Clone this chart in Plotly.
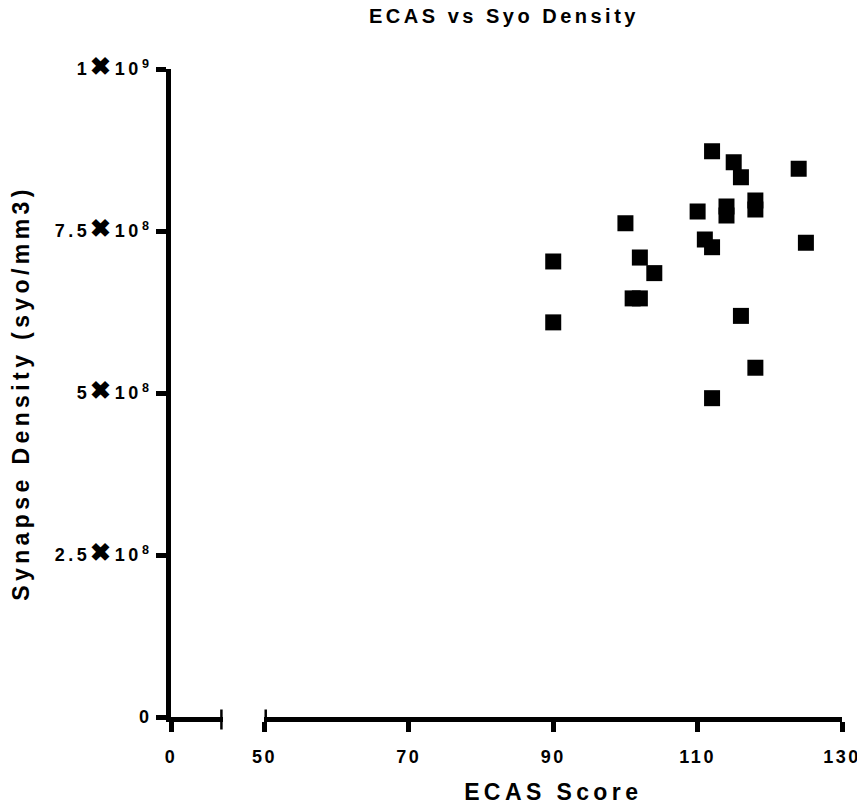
import plotly.graph_objects as go

# ---- data ----
chart_title = "ECAS vs Syo Density"
x_title = "ECAS Score"
y_title = "Synapse Density (syo/mm3)"

ecas_score = [112, 115, 116, 124, 118, 118, 114, 114, 110, 100, 111,
              112, 125, 90, 102, 104, 101, 102, 90, 116, 118, 112]
synapse_density = [8.73e8, 8.56e8, 8.33e8, 8.46e8, 7.97e8, 7.83e8, 7.88e8,
                   7.74e8, 7.80e8, 7.62e8, 7.37e8, 7.25e8, 7.32e8, 7.03e8,
                   7.09e8, 6.85e8, 6.46e8, 6.46e8, 6.09e8, 6.19e8, 5.39e8,
                   4.92e8]

# broken x axis: short first segment and main segment
seg1_range = [0, 7]
seg1_ticks = [0]
seg1_ticktext = ["0"]
seg2_range = [50, 130]
seg2_ticks = [50, 70, 90, 110, 130]
seg2_ticktext = ["50", "70", "90", "110", "130"]

X_SIGN = '<span style="font-size:25px">✖</span>'
y_range = [0, 1e9]
y_ticks = [0, 2.5e8, 5e8, 7.5e8, 1e9]
y_ticktext = ["0", f"2.5{X_SIGN}10<sup>8</sup>", f"5{X_SIGN}10<sup>8</sup>",
              f"7.5{X_SIGN}10<sup>8</sup>", f"1{X_SIGN}10<sup>9</sup>"]

FONT = "Liberation Sans, Arial, Helvetica, sans-serif"

fig = go.Figure()
fig.add_trace(go.Scatter(
    x=ecas_score, y=synapse_density, mode="markers",
    xaxis="x2", yaxis="y",
    marker=dict(symbol="square", size=16, color="black", line=dict(width=0)),
    showlegend=False, hoverinfo="x+y",
))

tickfont = dict(family=FONT, size=18, color="black", weight="bold")
common = dict(showline=True, linecolor="black", linewidth=5,
              ticks="outside", ticklen=10, tickwidth=5, tickcolor="black",
              showgrid=False, zeroline=False, automargin=False,
              tickfont=tickfont, fixedrange=True)

W, H = 857, 799  # page body has an 8px margin inside the 865x807 window

fig.update_layout(
    width=W, height=H,
    plot_bgcolor="white", paper_bgcolor="white",
    margin=dict(l=163, r=23, t=61, b=90),
    title=dict(text=chart_title, x=496 / W, xref="container", xanchor="center",
               y=1, yref="container", yanchor="top", pad=dict(t=1),
               font=dict(family=FONT, size=20, color="black", weight="bold")),
    xaxis=dict(domain=[0, 0.077], range=seg1_range, tickmode="array",
               tickvals=seg1_ticks, ticktext=seg1_ticktext, anchor="y",
               ticklabelstandoff=9, **common),
    xaxis2=dict(domain=[0.1393, 1], range=seg2_range, tickmode="array",
                tickvals=seg2_ticks, ticktext=seg2_ticktext, anchor="y",
                ticklabelstandoff=9,
                title=dict(text=x_title, standoff=20,
                           font=dict(family=FONT, size=23, color="black", weight="bold")),
                **common),
    yaxis=dict(range=y_range, tickmode="array", tickvals=y_ticks,
               ticktext=y_ticktext, anchor="x", ticklabelstandoff=0,
               title=dict(text=y_title, standoff=46,
                          font=dict(family=FONT, size=23, color="black", weight="bold")),
               **common),
)

# break caps at the ends of the two x-axis segments
for xref, xv in (("x", seg1_range[1]), ("x2", seg2_range[0])):
    fig.add_shape(type="line", xref=xref, x0=xv, x1=xv,
                  yref="paper", ysizemode="pixel", yanchor=0, y0=-12.5, y1=7.5,
                  line=dict(color="black", width=5))

post = ("var s=document.createElement('style');"
        "s.innerHTML='.main-svg text{letter-spacing:2.5px}"
        " .main-svg g.ytick text{letter-spacing:3.5px}"
        " .main-svg text.gtitle{letter-spacing:3.5px}"
        " .main-svg text.x2title,.main-svg text.ytitle{letter-spacing:4.4px}';"
        "document.head.appendChild(s);")
fig.write_html("out.html", post_script=post)
